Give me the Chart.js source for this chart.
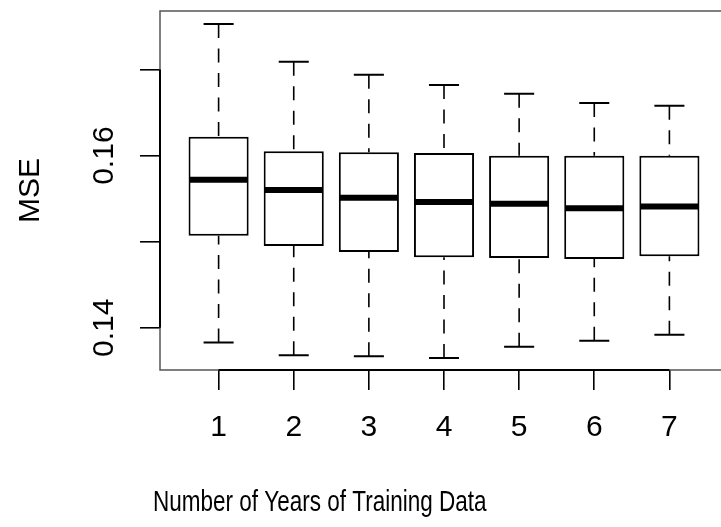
<!DOCTYPE html>
<html>
<head>
<meta charset="utf-8">
<title>MSE by years of training data</title>
<script src="https://cdn.jsdelivr.net/npm/chart.js@4.4.1/dist/chart.umd.min.js"></script>
<style>
    html, body { margin: 0; padding: 0; background: #fff; overflow: hidden; }
    #wrap { position: relative; width: 728px; height: 527px; }
</style>
</head>
<body>
<div id="wrap"><canvas id="chart"></canvas></div>
<script>
// Boxplot statistics
const years = [1, 2, 3, 4, 5, 6, 7];
const whiskerLow  = [0.1383, 0.1368, 0.1367, 0.1365, 0.1378, 0.1385, 0.1392];
const q1          = [0.1507, 0.1495, 0.1488, 0.1482, 0.1481, 0.1480, 0.1483];
const median      = [0.1572, 0.1560, 0.1551, 0.1546, 0.1544, 0.1539, 0.1541];
const q3          = [0.1622, 0.1605, 0.1604, 0.1603, 0.1600, 0.1600, 0.1600];
const whiskerHigh = [0.1753, 0.1709, 0.1694, 0.1682, 0.1672, 0.1661, 0.1658];

// R only labels every other y tick
const yTickValues = [0.14, 0.15, 0.16, 0.17];
const yLabelValues = [0.14, 0.16];
const yLabelText = ['0.14', '0.16'];
const xTitle = 'Number of Years of Training Data';

const plainFont = "'Liberation Sans', Arial, sans-serif";

// whiskers, staples, medians, the box around the plot and the text R draws
const boxplotExtras = {
    id: 'boxplotExtras',
    afterDatasetsDraw(chart) {
        const ctx = chart.ctx;
        const x = chart.scales.x;
        const y = chart.scales.y;
        const bars = chart.getDatasetMeta(0).data;
        ctx.save();
        ctx.strokeStyle = '#000';
        bars.forEach((bar, i) => {
            const half = bar.width / 2;
            const hi = y.getPixelForValue(whiskerHigh[i]);
            const lo = y.getPixelForValue(whiskerLow[i]);
            // dashed whiskers, drawn from the whisker end toward the hinge
            ctx.lineWidth = 1.6;
            ctx.setLineDash([14, 10.5]);
            ctx.beginPath();
            ctx.moveTo(bar.x, hi);
            ctx.lineTo(bar.x, y.getPixelForValue(q3[i]));
            ctx.moveTo(bar.x, lo);
            ctx.lineTo(bar.x, y.getPixelForValue(q1[i]));
            ctx.stroke();
            // staples
            ctx.setLineDash([]);
            ctx.lineWidth = 2;
            ctx.beginPath();
            ctx.moveTo(bar.x - half / 2, hi);
            ctx.lineTo(bar.x + half / 2, hi);
            ctx.moveTo(bar.x - half / 2, lo);
            ctx.lineTo(bar.x + half / 2, lo);
            ctx.stroke();
            // median
            const m = y.getPixelForValue(median[i]);
            ctx.lineWidth = 6;
            ctx.beginPath();
            ctx.moveTo(bar.x - half + 1, m);
            ctx.lineTo(bar.x + half - 1, m);
            ctx.stroke();
        });

        // frame
        const a = chart.chartArea;
        ctx.lineWidth = 1.5;
        ctx.strokeStyle = '#555';
        ctx.strokeRect(a.left, a.top, a.right - a.left, a.bottom - a.top);

        // axis lines, first tick to last tick, over the frame
        ctx.strokeStyle = '#000';
        ctx.lineWidth = 2;
        ctx.beginPath();
        ctx.moveTo(x.getPixelForValue(years[0]), a.bottom);
        ctx.lineTo(x.getPixelForValue(years[years.length - 1]), a.bottom);
        ctx.moveTo(a.left, y.getPixelForValue(yTickValues[0]));
        ctx.lineTo(a.left, y.getPixelForValue(yTickValues[yTickValues.length - 1]));
        ctx.stroke();

        // rotated y tick labels
        ctx.fillStyle = '#000';
        ctx.font = '30px ' + plainFont;
        ctx.textAlign = 'center';
        ctx.textBaseline = 'alphabetic';
        yLabelValues.forEach((v, i) => {
            ctx.save();
            ctx.translate(113, y.getPixelForValue(v));
            ctx.rotate(-Math.PI / 2);
            ctx.fillText(yLabelText[i], 0, 0);
            ctx.restore();
        });

        // x axis title, set in the condensed face of the original
        ctx.save();
        ctx.textAlign = 'left';
        ctx.translate(153, 511);
        ctx.scale(0.75, 1);
        ctx.fillText(xTitle, 0, 0);
        ctx.restore();
        ctx.restore();
    }
};

const boxData = years.map((yr, i) => ({ x: yr, y: [q1[i], q3[i]] }));

new Chart(document.getElementById('chart'), {
    type: 'bar',
    data: {
        datasets: [{
            label: 'MSE',
            data: boxData,
            backgroundColor: '#fff',
            borderColor: '#000',
            borderWidth: 2,
            borderSkipped: false,
            categoryPercentage: 1,
            barPercentage: 0.8
        }]
    },
    options: {
        responsive: true,
        maintainAspectRatio: false,
        animation: false,
        layout: { padding: { top: 11, left: 0, right: 0, bottom: 0 } },
        plugins: {
            legend: { display: false },
            tooltip: { enabled: false }
        },
        scales: {
            x: {
                type: 'linear',
                min: 0.22,
                max: 7.78,
                offset: false,
                afterFit: (scale) => { scale.height = 157; },
                border: { display: false },
                grid: {
                    offset: false,
                    drawOnChartArea: false,
                    color: '#000',
                    lineWidth: 1.6,
                    tickLength: 20
                },
                ticks: {
                    stepSize: 1,
                    includeBounds: false,
                    maxRotation: 0,
                    padding: 20,
                    color: '#000',
                    font: { family: plainFont, size: 30 },
                    callback: (v) => String(v)
                }
            },
            y: {
                min: 0.1351,
                max: 0.1768,
                afterFit: (scale) => { scale.width = 160; },
                border: { display: false },
                grid: {
                    drawOnChartArea: false,
                    color: '#000',
                    lineWidth: 1.6,
                    tickLength: 20
                },
                ticks: {
                    stepSize: 0.01,
                    includeBounds: false,
                    display: false
                },
                title: {
                    display: true,
                    text: 'MSE',
                    color: '#000',
                    font: { family: plainFont, size: 30 },
                    padding: { top: 13, bottom: 0 }
                }
            }
        }
    },
    plugins: [boxplotExtras]
});
</script>
</body>
</html>
